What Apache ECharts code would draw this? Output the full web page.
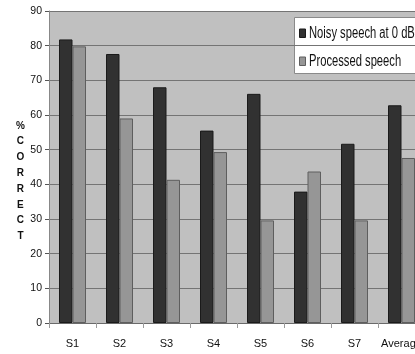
<!DOCTYPE html>
<html>
<head>
<meta charset="utf-8">
<script src="https://cdn.jsdelivr.net/npm/echarts@6/dist/echarts.min.js"></script>
<style>
html,body{margin:0;padding:0;background:#fff;overflow:hidden;width:415px;height:354px;}
#c{width:425px;height:354px;}
</style>
</head>
<body>
<div id="c"></div>
<script>
var categories = ['S1','S2','S3','S4','S5','S6','S7','Average'];
var noisy = [81.8, 77.6, 68.0, 55.5, 66.1, 37.9, 51.7, 62.8];
var processed = [79.8, 59.0, 41.3, 49.3, 29.6, 43.7, 29.6, 47.6];
var yTicks = [0, 10, 20, 30, 40, 50, 60, 70, 80, 90];
var seriesNames = ['Noisy speech at 0 dB', 'Processed speech'];
var yTitle = '%\nC\nO\nR\nR\nE\nC\nT';

var colors = ['#313131', '#969696'];
var borders = ['#1a1a1a', '#5e5e5e'];
var FONT = '"Liberation Sans", Arial, sans-serif';
var chart = echarts.init(document.getElementById('c'), null, {renderer: 'canvas'});

var legendChildren = [
  {type: 'rect', shape: {x: 0, y: 0, width: 150, height: 56},
   style: {fill: '#ffffff', stroke: '#8a8a8a', lineWidth: 1}}
];
seriesNames.forEach(function(n, i){
  var cy = 16 + i * 28;
  legendChildren.push({type: 'rect', shape: {x: 5, y: cy - 4.5, width: 6, height: 8.5},
    style: {fill: colors[i], stroke: borders[i], lineWidth: 1}});
  legendChildren.push({type: 'text', x: 14.5, y: cy, scaleX: 0.7, scaleY: 1,
    style: {text: n, font: '16px ' + FONT, fill: '#111', textVerticalAlign: 'middle', verticalAlign: 'middle'}});
});

chart.setOption({
  animation: false,
  backgroundColor: '#ffffff',
  grid: {left: 49, top: 11, width: 376, height: 312, containLabel: false,
         show: true, backgroundColor: '#c0c0c0', borderWidth: 0},
  graphic: [
    {type: 'text', left: 16, top: 118,
     style: {text: yTitle, font: 'bold 10px "Liberation Sans", Arial, sans-serif',
             fill: '#111', lineHeight: 15.8, textAlign: 'center'}},
    {type: 'group', x: 294.5, y: 17.5, children: legendChildren}
  ],
  xAxis: {
    type: 'category', data: categories,
    axisLine: {lineStyle: {color: '#6a6a6a', width: 1}},
    axisTick: {show: true, length: 5, lineStyle: {color: '#9a9a9a'}},
    axisLabel: {fontFamily: FONT, fontSize: 11, color: '#111', margin: 15, interval: 0}
  },
  yAxis: {
    type: 'value', min: 0, max: 90, interval: 10,
    axisLine: {show: true, lineStyle: {color: '#888'}},
    axisTick: {show: true, length: 4, lineStyle: {color: '#555'}},
    axisLabel: {fontFamily: FONT, fontSize: 10.5, color: '#111', margin: 7,
                formatter: function(v){ return yTicks.indexOf(v) >= 0 ? String(v) : ''; }},
    splitLine: {show: true, lineStyle: {color: '#747474', width: 1}}
  },
  series: [
    {name: seriesNames[0], type: 'bar', data: noisy, barWidth: 13.5, barGap: '0%',
     itemStyle: {color: colors[0], borderColor: borders[0], borderWidth: 1}},
    {name: seriesNames[1], type: 'bar', data: processed, barWidth: 13.5,
     itemStyle: {color: colors[1], borderColor: borders[1], borderWidth: 1}}
  ]
});
</script>
</body>
</html>
